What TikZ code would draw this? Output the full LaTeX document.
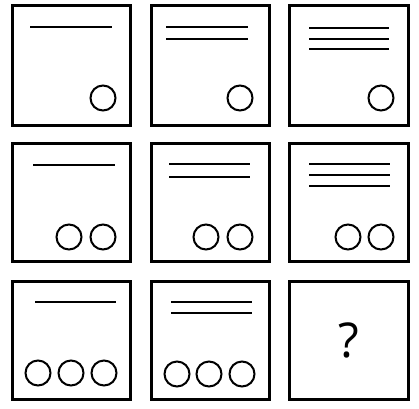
\documentclass[tikz,border=0pt]{standalone}
\usepackage{fontspec}
\setmainfont{Open Sans}
\begin{document}
\begin{tikzpicture}[x=1pt,y=-1pt,
  cell/.style={draw=black,line width=3pt,fill=white},
  bar/.style={draw=black,line width=2pt},
  ring/.style={draw=black,line width=2pt}]
\useasboundingbox[fill=white] (0,0) rectangle (419,408);
% boxes
\foreach \x/\X in {12/130,151/269,289/408}{
  \foreach \y/\Y in {5/125,143/261,281/399}{
    \draw[cell] (\x,\y) rectangle (\X,\Y);
  }
}
% row 1
\draw[bar] (30,27) -- (112,27);
\draw[ring] (103,98) circle (12.5);
\draw[bar] (166,27) -- (248,27);
\draw[bar] (166,39) -- (248,39);
\draw[ring] (240,98) circle (12.5);
\draw[bar] (309,28) -- (389,28);
\draw[bar] (309,38.5) -- (389,38.5);
\draw[bar] (309,49) -- (389,49);
\draw[ring] (381,98) circle (12.5);
% row 2
\draw[bar] (33,165) -- (115,165);
\draw[ring] (69,237) circle (12.5);
\draw[ring] (103,237) circle (12.5);
\draw[bar] (169,164) -- (250,164);
\draw[bar] (169,177) -- (250,177);
\draw[ring] (206,237) circle (12.5);
\draw[ring] (240,237) circle (12.5);
\draw[bar] (309,164) -- (390,164);
\draw[bar] (309,175) -- (390,175);
\draw[bar] (309,186) -- (390,186);
\draw[ring] (348,237) circle (12.5);
\draw[ring] (381,237) circle (12.5);
% row 3
\draw[bar] (35,302) -- (116,302);
\draw[ring] (38,373) circle (12.5);
\draw[ring] (71,373) circle (12.5);
\draw[ring] (104,373) circle (12.5);
\draw[bar] (171,302) -- (252,302);
\draw[bar] (171,313) -- (252,313);
\draw[ring] (177,374) circle (12.5);
\draw[ring] (209,374) circle (12.5);
\draw[ring] (242,374) circle (12.5);
\node[inner sep=0pt,font=\fontsize{48}{48}\selectfont] (q) at (348.5,340) {?};
\end{tikzpicture}
\end{document}
